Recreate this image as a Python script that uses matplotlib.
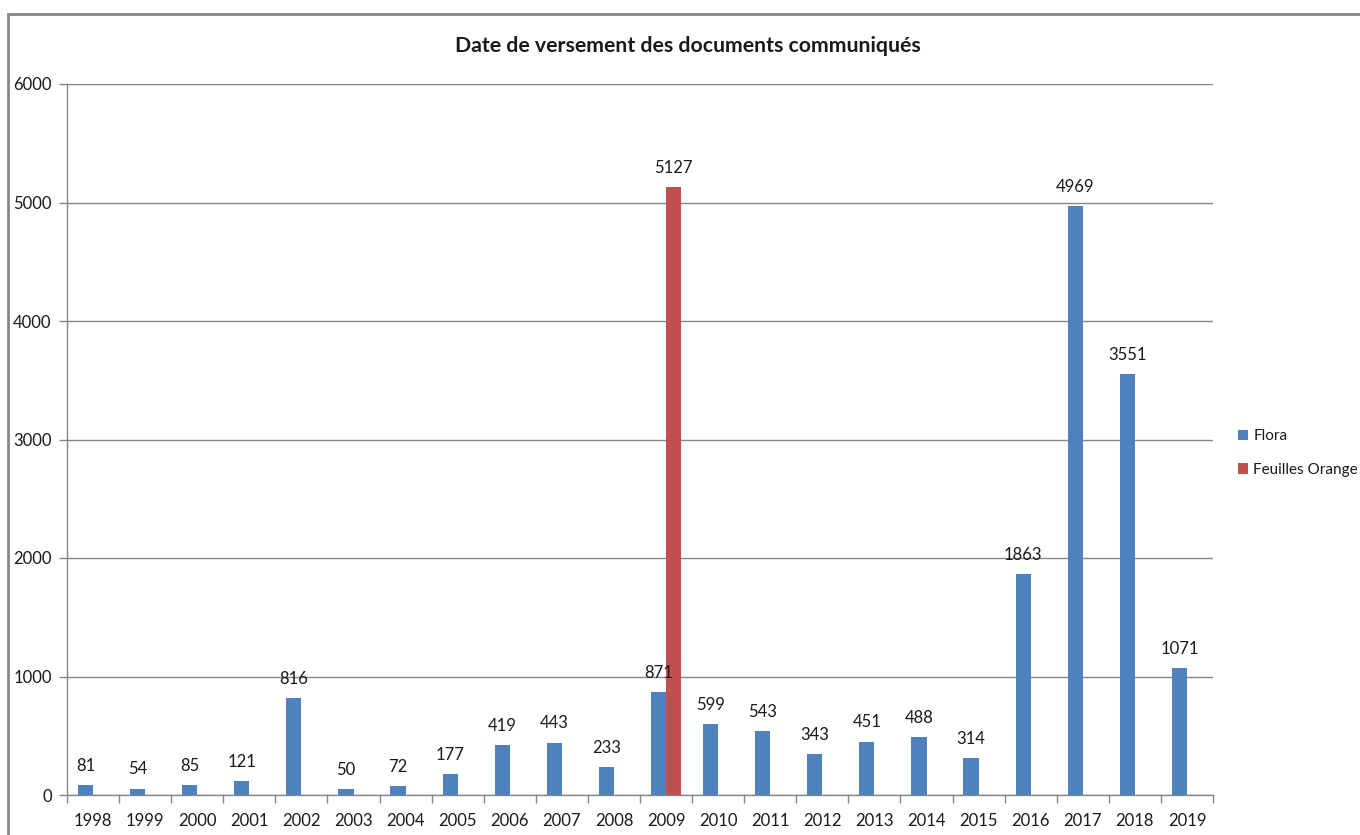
import matplotlib
matplotlib.use('Agg')
import matplotlib.pyplot as plt
from matplotlib.patches import Rectangle
import numpy as np

plt.rcParams['font.family'] = ['Liberation Sans Narrow', 'Lato', 'DejaVu Sans']

years = ['1998', '1999', '2000', '2001', '2002', '2003', '2004', '2005', '2006', '2007', '2008',
         '2009', '2010', '2011', '2012', '2013', '2014', '2015', '2016', '2017', '2018', '2019']
flora = [81, 54, 85, 121, 816, 50, 72, 177, 419, 443, 233,
         871, 599, 543, 343, 451, 488, 314, 1863, 4969, 3551, 1071]
orange_year = '2009'
orange_value = 5127

blue = '#4F81BD'
red = '#C0504D'
grey = '#868686'
txt = '#1a1a1a'


def main():
	fig = plt.figure(figsize=(13.6, 8.35), dpi=100)
	ax = fig.add_axes([67 / 1360, 1 - 795 / 835, (1213 - 67) / 1360, (795 - 84) / 835])

	# outer chart frame, as in the Excel export
	fig.patches.append(Rectangle((8 / 1360, -0.1), 1.2, 1 - 14 / 835 + 0.1, transform=fig.transFigure,
	                             fill=False, edgecolor=grey, linewidth=2, zorder=0))

	x = np.arange(len(years))
	w = 0.29
	bf = ax.bar(x - w / 2, flora, width=w, color=blue, label='Flora', zorder=3)
	xo = years.index(orange_year)
	bo = ax.bar([xo + w / 2], [orange_value], width=w, color=red, label='Feuilles Orange', zorder=3)

	for bars in (bf, bo):
		for b in bars:
			ax.annotate(str(int(b.get_height())), (b.get_x() + b.get_width() / 2, b.get_height()),
			            xytext=(0, 8), textcoords='offset points', ha='center', va='bottom',
			            fontsize=12, color=txt)

	ax.set_xlim(-0.5, len(years) - 0.5)
	ax.set_ylim(0, 6000)
	ax.set_yticks(range(0, 6001, 1000))
	ax.yaxis.grid(True, color=grey, linewidth=1, zorder=0)
	ax.set_axisbelow(True)

	ax.set_xticks(x)
	ax.set_xticklabels(years)
	ax.set_xticks(np.arange(-0.5, len(years), 1), minor=True)
	ax.tick_params(axis='x', which='major', length=0, pad=13, labelsize=12, labelcolor=txt)
	ax.tick_params(axis='x', which='minor', length=6, color=grey, width=1)
	ax.tick_params(axis='y', length=6, color=grey, width=1, pad=5, labelsize=12, labelcolor=txt)

	for s in ('top', 'right'):
		ax.spines[s].set_visible(False)
	for s in ('left', 'bottom'):
		ax.spines[s].set_color(grey)
		ax.spines[s].set_linewidth(1)

	fig.text(688 / 1360, 1 - 46 / 835, 'Date de versement des documents communiqués',
	         ha='center', va='center', fontsize=15.3, fontweight='bold', color=txt)

	fig.legend(handles=[bf, bo], loc='center left', bbox_to_anchor=(1238 / 1360, 1 - 453 / 835),
	           frameon=False, fontsize=11, handlelength=0.65, handleheight=0.65, handletextpad=0.35,
	           labelspacing=1.3, labelcolor=txt, borderpad=0, borderaxespad=0)

	fig.savefig('out.png', dpi=100)


if __name__ == '__main__':
	main()
